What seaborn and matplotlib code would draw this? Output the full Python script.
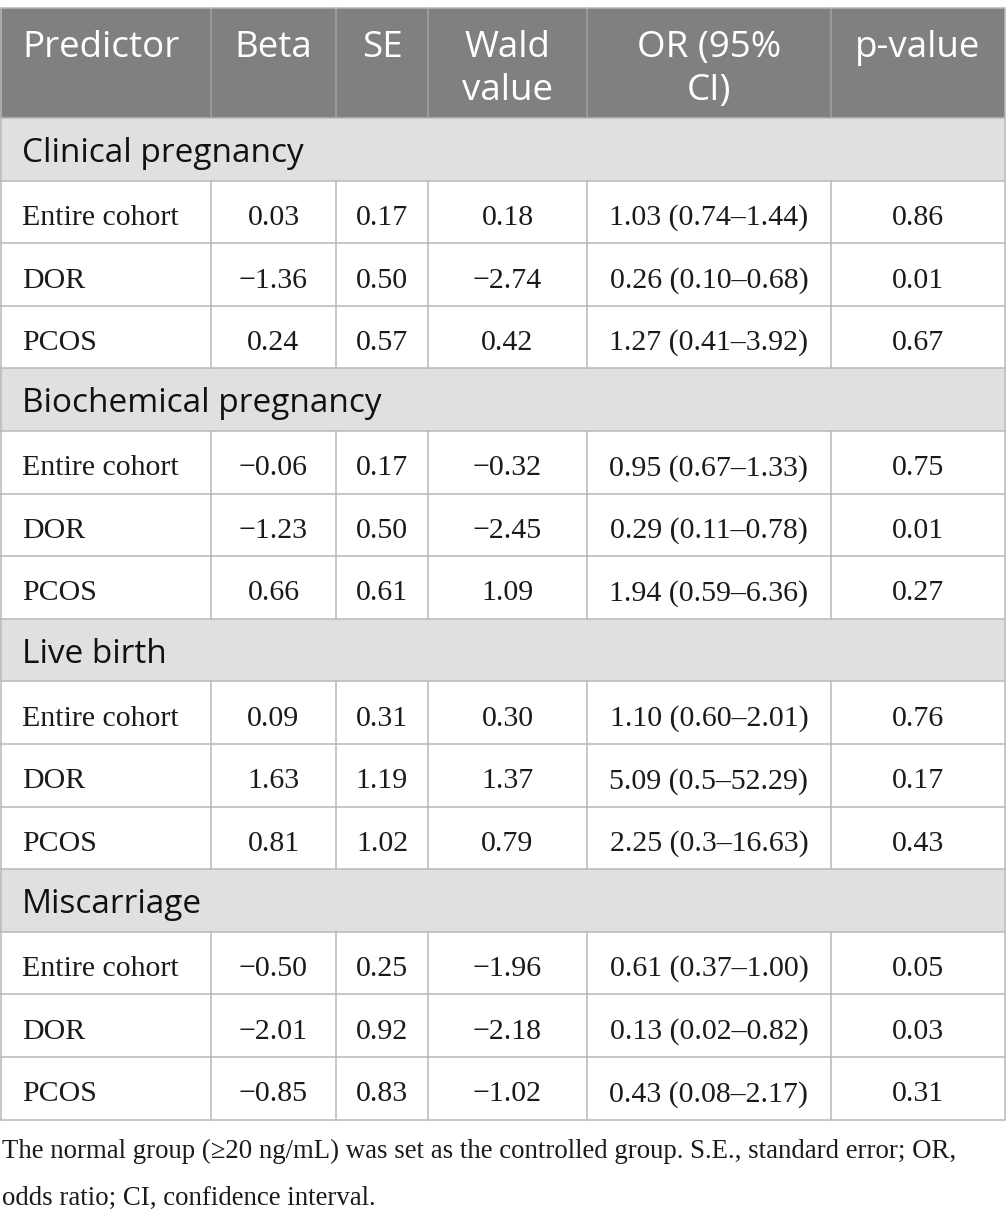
import matplotlib.pyplot as plt
import seaborn as sns
from matplotlib.patches import Rectangle

# Table content
columns = ["Predictor", "Beta", "SE", "Wald\nvalue", "OR (95%\nCI)", "p-value"]
sections = ["Clinical pregnancy", "Biochemical pregnancy", "Live birth", "Miscarriage"]
predictors = ["Entire cohort", "DOR", "PCOS"]

beta = [["0.03", "\u22121.36", "0.24"],
        ["\u22120.06", "\u22121.23", "0.66"],
        ["0.09", "1.63", "0.81"],
        ["\u22120.50", "\u22122.01", "\u22120.85"]]
se = [["0.17", "0.50", "0.57"],
      ["0.17", "0.50", "0.61"],
      ["0.31", "1.19", "1.02"],
      ["0.25", "0.92", "0.83"]]
wald = [["0.18", "\u22122.74", "0.42"],
        ["\u22120.32", "\u22122.45", "1.09"],
        ["0.30", "1.37", "0.79"],
        ["\u22121.96", "\u22122.18", "\u22121.02"]]
odds = [["1.03 (0.74\u20131.44)", "0.26 (0.10\u20130.68)", "1.27 (0.41\u20133.92)"],
        ["0.95 (0.67\u20131.33)", "0.29 (0.11\u20130.78)", "1.94 (0.59\u20136.36)"],
        ["1.10 (0.60\u20132.01)", "5.09 (0.5\u201352.29)", "2.25 (0.3\u201316.63)"],
        ["0.61 (0.37\u20131.00)", "0.13 (0.02\u20130.82)", "0.43 (0.08\u20132.17)"]]
pvals = [["0.86", "0.01", "0.67"],
         ["0.75", "0.01", "0.27"],
         ["0.76", "0.17", "0.43"],
         ["0.05", "0.03", "0.31"]]

footnote = ["The normal group (\u226520 ng/mL) was set as the controlled group. S.E., standard error; OR,",
            "odds ratio; CI, confidence interval."]

sns.set_theme(style="white")

W, H = 1006, 1214
fig = plt.figure(figsize=(W / 100, H / 100), dpi=100)
ax = fig.add_axes([0, 0, 1, 1])
ax.set_xlim(0, W)
ax.set_ylim(H, 0)
ax.axis("off")

col_edges = [0, 211, 336, 428, 587, 831, 1005]
top = 8
head_h = 110
row_h = 62.6

header_bg = "#7f807f"
section_bg = "#e1dfe0"
grid = "#b8b8b8"
text_c = "#1a1a1a"

sans = ["Open Sans", "DejaVu Sans"]
serif = ["Liberation Serif", "DejaVu Serif"]

# header
ax.add_patch(Rectangle((0, top), W - 1, head_h, color=header_bg, lw=0))
for i, lab in enumerate(columns):
    lines = lab.split("\n")
    for j, ln in enumerate(lines):
        if i == 0:
            x, ha = col_edges[0] + 22, "left"
        else:
            x, ha = (col_edges[i] + col_edges[i + 1]) / 2, "center"
        ax.text(x, top + 49 + j * 43, ln, ha=ha, va="baseline",
                fontsize=26.5, color="white", family=sans)
for x in col_edges[1:-1]:
    ax.plot([x, x], [top, top + head_h], color="#a3a3a3", lw=1.1)

# body
y = top + head_h
hlines = [top, y]
for s, sec in enumerate(sections):
    ax.add_patch(Rectangle((0, y), W - 1, row_h, color=section_bg, lw=0))
    ax.text(22, y + row_h / 2 + 12.5, sec, ha="left", va="baseline",
            fontsize=24, color="#111111", family=sans, weight="medium")
    y += row_h
    hlines.append(y)
    for r, pred in enumerate(predictors):
        vals = [pred, beta[s][r], se[s][r], wald[s][r], odds[s][r], pvals[s][r]]
        for i, v in enumerate(vals):
            if i == 0:
                x, ha = col_edges[0] + 22, "left"
            else:
                x, ha = (col_edges[i] + col_edges[i + 1]) / 2, "center"
            ax.text(x, y + row_h / 2 + 13, v, ha=ha, va="baseline",
                    fontsize=21.5, color=text_c, family=serif)
        for x in col_edges[1:-1]:
            ax.plot([x, x], [y, y + row_h], color=grid, lw=1.1)
        y += row_h
        hlines.append(y)

for hy in hlines:
    ax.plot([0, W - 1], [hy, hy], color=grid, lw=1.1)
ax.plot([1, 1], [top, y], color=grid, lw=1.1)
ax.plot([W - 1, W - 1], [top, y], color=grid, lw=1.1)

# footnote
for k, ln in enumerate(footnote):
    ax.text(2, 1158 + k * 47, ln, ha="left", va="baseline",
            fontsize=19.3, color=text_c, family=serif)

fig.savefig("out.png", dpi=100, facecolor="white")
